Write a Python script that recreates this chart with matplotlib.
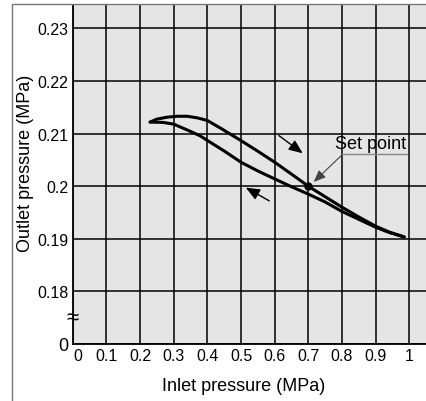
import matplotlib
matplotlib.use("Agg")
import matplotlib.pyplot as plt
import matplotlib.transforms as mtransforms
from matplotlib.patches import Rectangle

plt.rcParams['font.family'] = ['Liberation Sans', 'DejaVu Sans']

# curve (inlet MPa, outlet MPa)
upper_x = [0.230, 0.25, 0.28, 0.31, 0.34, 0.37, 0.40, 0.443, 0.50, 0.55, 0.60, 0.65, 0.70, 0.75, 0.80, 0.85, 0.90, 0.94, 0.985]
upper_y = [0.2122, 0.21275, 0.21312, 0.21330, 0.21330, 0.2130, 0.2125, 0.21089, 0.20867, 0.20665, 0.20456, 0.2023, 0.2000, 0.1980, 0.19601, 0.19415, 0.1924, 0.1913, 0.19035]
lower_x = [0.230, 0.27, 0.30, 0.34, 0.378, 0.40, 0.45, 0.50, 0.55, 0.60, 0.65, 0.70, 0.75, 0.80, 0.85, 0.90, 0.94, 0.985]
lower_y = [0.2122, 0.21212, 0.21180, 0.2107, 0.2096, 0.2087, 0.2067, 0.20456, 0.2029, 0.20139, 0.1999, 0.1985, 0.1970, 0.1952, 0.1937, 0.1922, 0.1912, 0.19035]

set_point = (0.70, 0.20)

x_ticks = [0, 0.1, 0.2, 0.3, 0.4, 0.5, 0.6, 0.7, 0.8, 0.9, 1.0]
x_labels = ['0', '0.1', '0.2', '0.3', '0.4', '0.5', '0.6', '0.7', '0.8', '0.9', '1']
y_ticks = [0.17, 0.18, 0.19, 0.20, 0.21, 0.22, 0.23]
y_labels = ['0', '0.18', '0.19', '0.2', '0.21', '0.22', '0.23']

fig = plt.figure(figsize=(4.27, 4.02), dpi=100)
ax = fig.add_axes([0.1703, 0.1418, 0.8297, 0.8432])
ax.set_facecolor('#e5e5e5')

# outer frame
fig.patches.append(Rectangle((12/427, -0.05), 1.1, (1 - 5/402) + 0.05, transform=fig.transFigure,
                             fill=False, edgecolor='#777777', lw=1.0, zorder=0))

ax.plot(upper_x, upper_y, color='black', lw=2.2, solid_capstyle='round', solid_joinstyle='round', zorder=3)
ax.plot(lower_x, lower_y, color='black', lw=2.2, solid_capstyle='round', solid_joinstyle='round', zorder=3)
ax.plot(*set_point, 'o', color='black', ms=5, zorder=4)

# direction arrows
ax.annotate('', xy=(0.690, 0.20595), xytext=(0.606, 0.20994),
            arrowprops=dict(arrowstyle='-|>,head_length=0.6,head_width=0.25', color='black', lw=1.0, mutation_scale=14))
ax.annotate('', xy=(0.507, 0.2000), xytext=(0.591, 0.19696),
            arrowprops=dict(arrowstyle='-|>,head_length=0.6,head_width=0.25', color='black', lw=1.0, mutation_scale=14))

# set point callout
ax.plot([0.80, 0.993], [0.20614, 0.20614], color='#888888', lw=1.0, zorder=2)
ax.annotate('', xy=(0.710, 0.20044), xytext=(0.8029, 0.20614),
            arrowprops=dict(arrowstyle='-|>,head_length=0.6,head_width=0.25', color='#444444', lw=0.8, mutation_scale=12))
ax.text(0.884, 0.2081, 'Set point', ha='center', va='center', fontsize=13)

# axis break mark
ax.text(0, 0.1749, '\u2248', ha='center', va='center', fontsize=16, zorder=5, clip_on=False)

ax.set_xlim(0, 1.0526)
ax.set_ylim(0.17, 0.23445)
ax.set_xticks(x_ticks)
ax.set_xticklabels(x_labels, fontsize=11.5)
ax.set_yticks(y_ticks)
ax.set_yticklabels(y_labels, fontsize=11.5)
ax.tick_params(length=0, pad=3)
ax.grid(True, color='black', lw=1.1)
ax.set_axisbelow(True)

lab = ax.get_xticklabels()[0]
lab.set_transform(lab.get_transform() + mtransforms.ScaledTranslation(5/100, 0, fig.dpi_scale_trans))
ylab0 = ax.get_yticklabels()[0]
ylab0.set_fontsize(13)

for s in ['top', 'right']:
    ax.spines[s].set_visible(False)
for s in ['left', 'bottom']:
    ax.spines[s].set_linewidth(1.3)

ax.set_xlabel('Inlet pressure (MPa)', fontsize=13)
ax.set_ylabel('Outlet pressure (MPa)', fontsize=13)
ax.xaxis.set_label_coords(0.482, -0.097)
ax.yaxis.set_label_coords(-0.109, 0.537)

fig.savefig('out.png', dpi=100)
